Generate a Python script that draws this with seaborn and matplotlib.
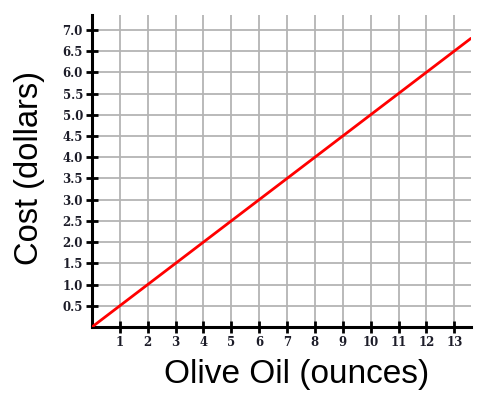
import pandas as pd
import matplotlib.pyplot as plt
import seaborn as sns
import numpy as np

# data
ounces = [0, 13.6]
cost = [0, 6.8]
x_ticks = list(range(1, 14))
y_ticks = [0.5, 1.0, 1.5, 2.0, 2.5, 3.0, 3.5, 4.0, 4.5, 5.0, 5.5, 6.0, 6.5, 7.0]

df = pd.DataFrame({"ounces": ounces, "cost": cost})

sns.set_theme(style="white")
plt.rcParams["font.family"] = ["Liberation Sans", "DejaVu Sans"]

f = plt.figure(figsize=(5.04, 4.03), dpi=100)
ax = f.add_axes([0.1825, 0.1886, 0.7520, 0.7742])

sns.lineplot(df, x="ounces", y="cost", color="#ff0000", linewidth=2, ax=ax, zorder=3)

ax.set_xlim(0, 13.6)
ax.set_ylim(0, 7.35)
ax.set_xticks(x_ticks)
ax.set_yticks(y_ticks)
ax.set_xticklabels([str(t) for t in x_ticks])
ax.set_yticklabels(["%.1f" % t for t in y_ticks])

ax.grid(True, color="#b4b4b4", linewidth=1.3)
ax.set_axisbelow(True)

sns.despine(ax=ax)
for s in ["left", "bottom"]:
    ax.spines[s].set_color("black")
    ax.spines[s].set_linewidth(2.2)

ax.tick_params(axis="both", direction="inout", length=9, width=2, color="black",
               labelsize=8.5, pad=2, left=True, bottom=True)
for lab in ax.get_xticklabels() + ax.get_yticklabels():
    lab.set_family("DejaVu Serif")
    lab.set_fontweight("bold")
    lab.set_color("#1c1c28")

ax.set_xlabel("")
ax.set_ylabel("")
f.text(297 / 504, 1 - 374 / 403, "Olive Oil (ounces)", fontsize=24, ha="center", va="center", color="black")
f.text(30 / 504, 1 - 168 / 403, "Cost (dollars)", fontsize=23.5, ha="center", va="center",
       rotation=90, color="black")

f.savefig("out.png", dpi=100)
